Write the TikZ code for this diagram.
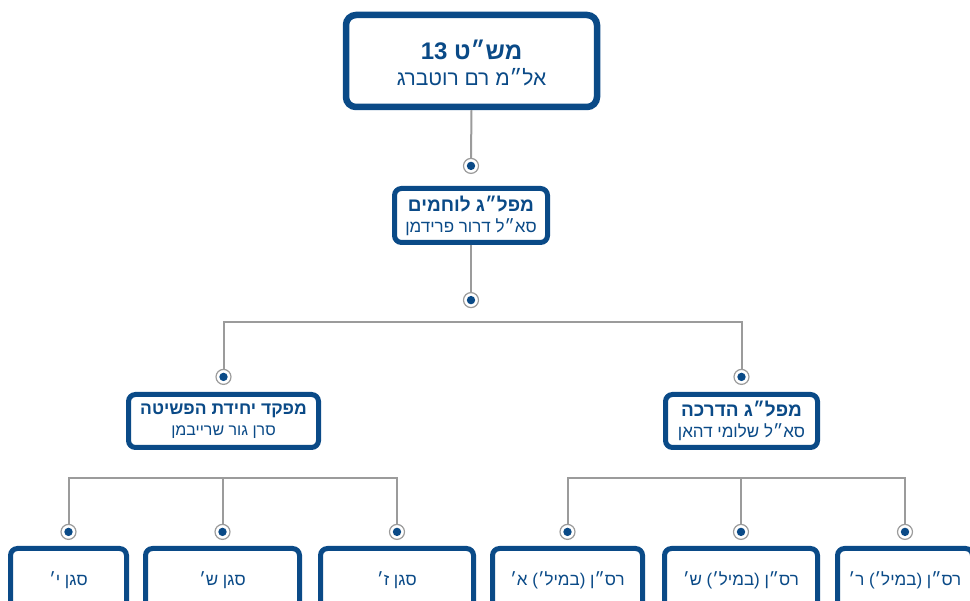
\documentclass[tikz,border=0pt]{standalone}
\usepackage{fontspec}
\newfontfamily\hebfont[Script=Hebrew]{Liberation Sans}
\TeXXeTstate=1
\newcommand{\heb}[1]{{\hebfont\beginR #1\endR}}
\usetikzlibrary{positioning}
\definecolor{navy}{HTML}{0A4A87}
\definecolor{linegray}{HTML}{9B9B9B}

\begin{document}
\begin{tikzpicture}[x=1pt, y=-1pt,
                orgbox/.style={rectangle, draw=navy, fill=white, text=navy, line width=5pt, rounded corners=7pt, align=center, inner sep=0pt},
                topbox/.style={orgbox, line width=6.5pt, rounded corners=10pt},
                dotnode/.style={circle, draw=linegray, fill=white, line width=1.2pt, minimum size=15pt, inner sep=0pt,
                    path picture={\fill[navy] (path picture bounding box.center) circle[radius=4.2pt];}},
                link/.style={draw=linegray, line width=2pt},
                ]
                \useasboundingbox (0,0) rectangle (970,601);
                \clip (0,0) rectangle (970,601);
                %Nodes
                \node[topbox, minimum width=251pt, minimum height=92pt, font=\fontsize{21}{26}\selectfont]
                    (cmdr) at (471.5,61) {};
                \node[text=navy, align=center, font=\fontsize{21}{26}\selectfont]
                    (cmdrtext) at (471.5,63) {{\fontsize{24}{26}\selectfont\bfseries\heb{מש״ט \beginL 13\endL}}\\ \heb{אל״מ רם רוטברג}};
                \node[orgbox, minimum width=153pt, minimum height=54pt, font=\fontsize{17}{21}\selectfont]
                    (fighters) at (471,215.5) {{\fontsize{19}{21}\selectfont\bfseries\heb{מפל״ג לוחמים}}\\ \heb{סא״ל דרור פרידמן}};
                \node[orgbox, minimum width=190pt, minimum height=53pt, font=\fontsize{16}{21}\selectfont]
                    (raid) at (223.5,421) {{\fontsize{17.5}{21}\selectfont\bfseries\heb{מפקד יחידת הפשיטה}}\\ \heb{סרן גור שרייבמן}};
                \node[orgbox, minimum width=152pt, minimum height=53pt, font=\fontsize{17}{21}\selectfont]
                    (training) at (741.5,421) {{\fontsize{19}{21}\selectfont\bfseries\heb{מפל״ג הדרכה}}\\ \heb{סא״ל שלומי דהאן}};
                \node[orgbox, minimum width=116pt, minimum height=63pt, font=\fontsize{17}{21}\selectfont]
                    (segY) at (68.5,580) {\heb{סגן י׳}};
                \node[orgbox, minimum width=154pt, minimum height=63pt, font=\fontsize{17}{21}\selectfont]
                    (segS) at (222.5,580) {\heb{סגן ש׳}};
                \node[orgbox, minimum width=153pt, minimum height=63pt, font=\fontsize{17}{21}\selectfont]
                    (segZ) at (397,580) {\heb{סגן ז׳}};
                \node[orgbox, minimum width=150pt, minimum height=63pt, font=\fontsize{17}{21}\selectfont]
                    (rasA) at (567.5,580) {\heb{רס״ן (במיל׳) א׳}};
                \node[orgbox, minimum width=153pt, minimum height=63pt, font=\fontsize{17}{21}\selectfont]
                    (rasS) at (741,580) {\heb{רס״ן (במיל׳) ש׳}};
                \node[orgbox, minimum width=135pt, minimum height=63pt, font=\fontsize{17}{21}\selectfont]
                    (rasR) at (905,580) {\heb{רס״ן (במיל׳) ר׳}};

                \node[dotnode] (dotfighters) [above=12pt of fighters] {};
                \node[dotnode] (dotfork)     [below=47pt of fighters] {};
                \node[dotnode] (dotraid)     [above=7pt of raid] {};
                \node[dotnode] (dottraining) [above=7pt of training] {};
                \node[dotnode] (dotsegY)     [above=6pt of segY] {};
                \node[dotnode] (dotsegS)     [above=6pt of segS] {};
                \node[dotnode] (dotsegZ)     [above=6pt of segZ] {};
                \node[dotnode] (dotrasA)     [above=6pt of rasA] {};
                \node[dotnode] (dotrasS)     [above=6pt of rasS] {};
                \node[dotnode] (dotrasR)     [above=6pt of rasR] {};

                \coordinate (barT) at (471,322);
                \coordinate (barL) at (222.5,478);
                \coordinate (barR) at (741,478);

                %Lines
                \draw[link] (cmdr.south) -- (dotfighters.north);
                \draw[link] (fighters.south) -- (dotfork.north);
                \draw[link] (dotraid.north) |- (barT) -| (dottraining.north);
                \draw[link] (dotsegY.north) |- (barL) -| (dotsegZ.north);
                \draw[link] (barL) -- (dotsegS.north);
                \draw[link] (dotrasA.north) |- (barR) -| (dotrasR.north);
                \draw[link] (barR) -- (dotrasS.north);
\end{tikzpicture}
\end{document}
